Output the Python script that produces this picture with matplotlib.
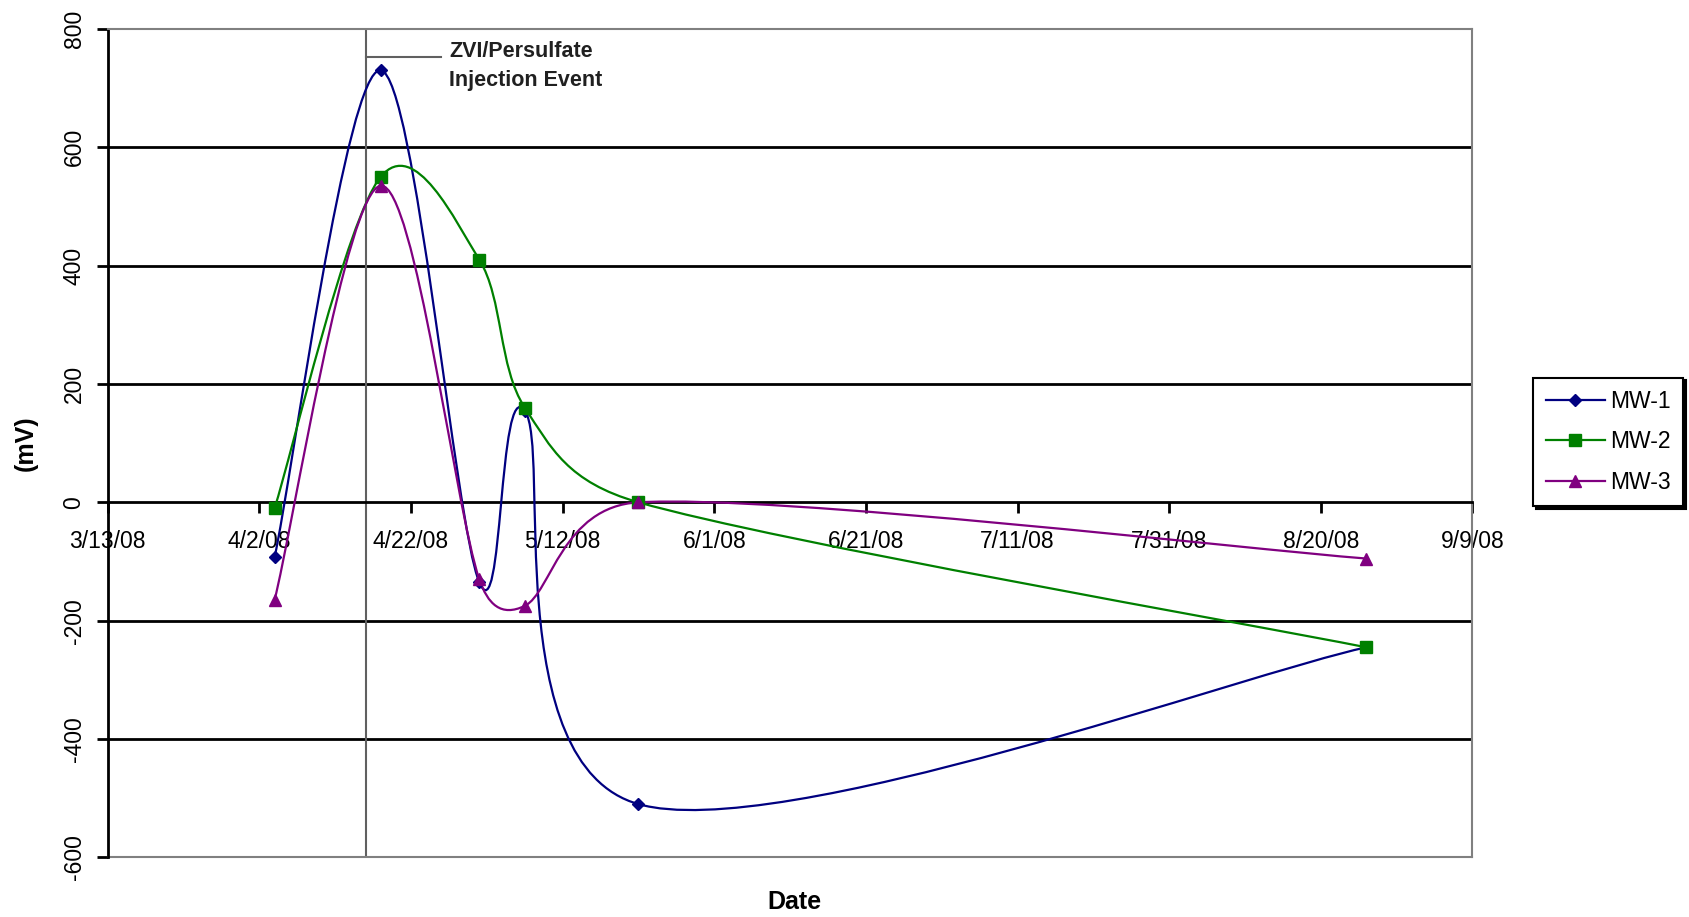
import matplotlib
matplotlib.use("Agg")
import matplotlib.pyplot as plt
import matplotlib.dates as mdates
from matplotlib.path import Path
from matplotlib.patches import PathPatch
from matplotlib.lines import Line2D
import numpy as np
import datetime as dt

plt.rcParams['font.family'] = ['Liberation Sans', 'DejaVu Sans']
plt.rcParams['axes.unicode_minus'] = False

# ---- data ----
sample_dates = ['2008-04-04', '2008-04-18', '2008-05-01', '2008-05-07', '2008-05-22', '2008-08-26']
mw1 = [-93, 730, -135, 155, -510, -245]
mw2 = [-10, 550, 410, 160, 0, -245]
mw3 = [-165, 535, -130, -175, 0, -95]
series_names = ['MW-1', 'MW-2', 'MW-3']
series_colors = ['#000080', '#008000', '#800080']
series_markers = ['D', 's', '^']
tick_dates = ['2008-03-13', '2008-04-02', '2008-04-22', '2008-05-12', '2008-06-01',
              '2008-06-21', '2008-07-11', '2008-07-31', '2008-08-20', '2008-09-09']
tick_labels = ['3/13/08', '4/2/08', '4/22/08', '5/12/08', '6/1/08',
               '6/21/08', '7/11/08', '7/31/08', '8/20/08', '9/9/08']
event_date = '2008-04-16'
event_text = 'ZVI/Persulfate\nInjection Event'

def dnum(s):
    return mdates.date2num(dt.datetime.strptime(s, '%Y-%m-%d'))

x = np.array([dnum(d) for d in sample_dates])
xt = [dnum(d) for d in tick_dates]

fig = plt.figure(figsize=(16.89, 9.17), dpi=100)
ax = fig.add_axes([0.0638, 0.065, 0.808, 0.9035])
ax.set_xlim(xt[0], xt[-1])
ax.set_ylim(-600, 800)

def smooth_path(xs, ys):
    # Excel-style smoothed line: Bezier segments with handles of 1/6 of the
    # neighbour chord, clamped to half the segment length (pixel space)
    data = np.column_stack([xs, ys]).astype(float)
    pts = ax.transData.transform(data)
    n = len(pts)
    verts = [pts[0]]
    codes = [Path.MOVETO]
    for i in range(n - 1):
        p0 = pts[i - 1] if i > 0 else pts[i]
        p1 = pts[i]
        p2 = pts[i + 1]
        p3 = pts[i + 2] if i + 2 < n else pts[i + 1]
        d12 = np.hypot(*(p2 - p1))
        v1 = p2 - p0
        v2 = p3 - p1
        d02 = np.hypot(*v1)
        d13 = np.hypot(*v2)
        h1 = v1 / 6.0
        if d02 / 6.0 > d12 / 2.0 and d02 > 0:
            h1 = v1 / d02 * d12 / 2.0
        h2 = v2 / 6.0
        if d13 / 6.0 > d12 / 2.0 and d13 > 0:
            h2 = v2 / d13 * d12 / 2.0
        verts += [p1 + h1, p2 - h2, p2]
        codes += [Path.CURVE4] * 3
    verts = ax.transData.inverted().transform(np.array(verts))
    return Path(verts, codes)

# gridlines
for yv in [600, 400, 200, -200, -400]:
    ax.axhline(yv, color='black', lw=2.0, zorder=1)

# event line
ex = dnum(event_date)
ax.axvline(ex, color='#606060', lw=1.5, zorder=1)
ax.plot([ex, dnum('2008-04-26')], [752, 752], color='#606060', lw=1.5, zorder=1)
ax.text(dnum('2008-04-27'), 738, event_text, fontsize=15.5, fontweight='bold',
        ha='left', va='center', linespacing=1.5, color='#202020')

for ys, c, m in zip([mw1, mw2, mw3], series_colors, series_markers):
    ax.add_patch(PathPatch(smooth_path(x, ys), facecolor='none', edgecolor=c, lw=1.6, zorder=3))
    ms = 6 if m == 'D' else 8
    ax.plot(x, ys, linestyle='none', marker=m, color=c, markersize=ms, zorder=4)

# axes styling
for s in ['top', 'right']:
    ax.spines[s].set_color('#808080')
    ax.spines[s].set_linewidth(1.5)
ax.spines['left'].set_color('black')
ax.spines['left'].set_linewidth(2)
ax.spines['bottom'].set_position(('data', 0))
ax.spines['bottom'].set_color('black')
ax.spines['bottom'].set_linewidth(2)
ax.axhline(-600, color='#808080', lw=1.5, zorder=2, clip_on=False)

ax.set_xticks(xt)
ax.set_xticklabels(tick_labels)
ax.set_yticks([-600, -400, -200, 0, 200, 400, 600, 800])
ax.tick_params(axis='x', direction='out', length=8, width=2, labelsize=16.5, pad=12)
ax.tick_params(axis='y', direction='out', length=8, width=2, labelsize=16.5, pad=8)
for lab in ax.get_yticklabels():
    lab.set_rotation(90)
    lab.set_va('center')

ax.set_ylabel('(mV)', fontsize=18, fontweight='bold', labelpad=18)
fig.text(0.4705, 0.016, 'Date', fontsize=18, fontweight='bold', ha='center', va='center')

handles = [Line2D([0], [0], color=c, marker=m, lw=1.6, markersize=(6 if m == 'D' else 8))
           for c, m in zip(series_colors, series_markers)]
leg = fig.legend(handles, series_names, loc='center', bbox_to_anchor=(0.952, 0.518),
                 fontsize=16.5, frameon=True, fancybox=False, edgecolor='black',
                 shadow={'color': 'black', 'alpha': 1.0, 'ox': 2, 'oy': -2},
                 handlelength=2.6, handletextpad=0.2, labelspacing=0.75, borderpad=0.55)
leg.get_frame().set_linewidth(1.5)

fig.savefig('out.png', dpi=100)
